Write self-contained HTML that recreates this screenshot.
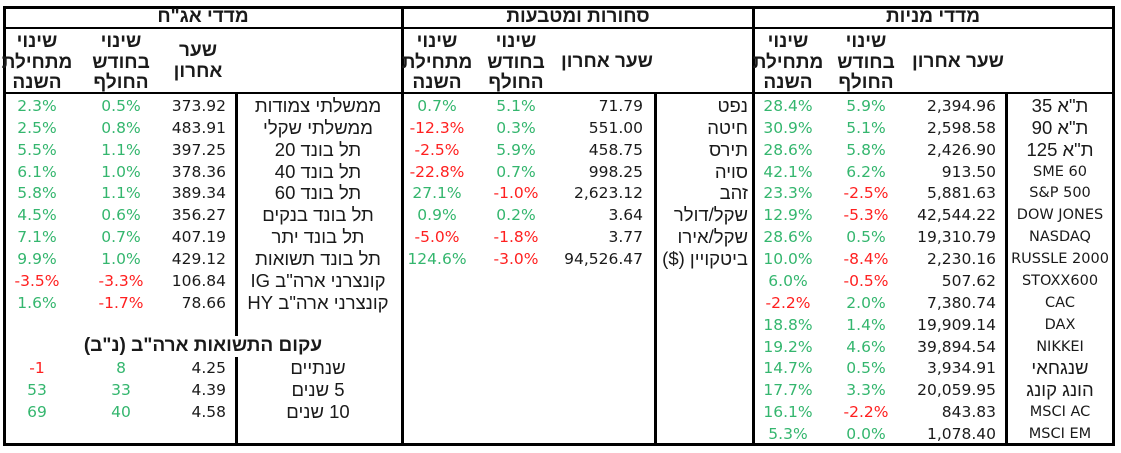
<!DOCTYPE html>
<html lang="he"><head><meta charset="utf-8">
<style>
html,body{margin:0;padding:0;background:#fff;}
#root{position:relative;width:1121px;height:453px;overflow:hidden;font-family:"DejaVu Sans","Liberation Sans",sans-serif;font-size:15.5px;color:#1a1a1a;}
.ln{position:absolute;background:#000;}
.t{position:absolute;white-space:nowrap;line-height:20px;}
.c{transform:translateX(-50%);text-align:center;}
.r{transform:translateX(-100%);text-align:right;}
.b{font-weight:bold;}
.g{color:#34b66e;}
.n{color:#ff1f1f;}
.h{direction:rtl;font-size:18.5px;font-family:"Liberation Sans","DejaVu Sans",sans-serif;}
.hb{font-size:19px;}
.en{font-size:14.5px;}
</style></head><body>
<div id="root"></div>
<script>
const bondNames=["ממשלתי צמודות","ממשלתי שקלי","תל בונד 20","תל בונד 40","תל בונד 60","תל בונד בנקים","תל בונד יתר","תל בונד תשואות","קונצרני ארה\"ב IG","קונצרני ארה\"ב HY"];
const bondPrice=["373.92","483.91","397.25","378.36","389.34","356.27","407.19","429.12","106.84","78.66"];
const bondMonth=[0.5,0.8,1.1,1.0,1.1,0.6,0.7,1.0,-3.3,-1.7];
const bondYear=[2.3,2.5,5.5,6.1,5.8,4.5,7.1,9.9,-3.5,1.6];
const yieldNames=["שנתיים","5 שנים","10 שנים"];
const yieldPrice=["4.25","4.39","4.58"];
const yieldMonth=[8,33,40];
const yieldYear=[-1,53,69];
const comNames=["נפט","חיטה","תירס","סויה","זהב","שקל/דולר","שקל/אירו","ביטקויין ($)"];
const comPrice=["71.79","551.00","458.75","998.25","2,623.12","3.64","3.77","94,526.47"];
const comMonth=[5.1,0.3,5.9,0.7,-1.0,0.2,-1.8,-3.0];
const comYear=[0.7,-12.3,-2.5,-22.8,27.1,0.9,-5.0,124.6];
const eqNames=["ת\"א 35","ת\"א 90","ת\"א 125","SME 60","S&P 500","DOW JONES","NASDAQ","RUSSLE 2000","STOXX600","CAC","DAX","NIKKEI","שנגחאי","הונג קונג","MSCI AC","MSCI EM"];
const eqPrice=["2,394.96","2,598.58","2,426.90","913.50","5,881.63","42,544.22","19,310.79","2,230.16","507.62","7,380.74","19,909.14","39,894.54","3,934.91","20,059.95","843.83","1,078.40"];
const eqMonth=[5.9,5.1,5.8,6.2,-2.5,-5.3,0.5,-8.4,-0.5,2.0,1.4,4.6,0.5,3.3,-2.2,0.0];
const eqYear=[28.4,30.9,28.6,42.1,23.3,12.9,28.6,10.0,6.0,-2.2,18.8,19.2,14.7,17.7,16.1,5.3];

const root=document.getElementById('root');
const ROW0=96, RH=21.87;
function rowY(i){return ROW0+i*RH;}
function line(x,y,w,h,name){
  const d=document.createElement('div');d.className='ln';
  d.style.left=x+'px';d.style.top=y+'px';d.style.width=w+'px';d.style.height=h+'px';
  
  
  root.appendChild(d);
}
function txt(s,x,y,cls,name){
  const d=document.createElement('div');d.className='t '+cls;
  d.style.left=x+'px';d.style.top=y+'px';d.textContent=s;
  
  
  root.appendChild(d);
}
function pct(v){return v.toFixed(1)+'%';}
function col(v){return v<0?'n':'g';}
function isHeb(s){return /[\u0590-\u05FF]/.test(s);}
line(3,6,1112,3,'outer-border-top');
line(3,443,1112,3,'outer-border-bottom');
line(3,6,3,440,'outer-border-left');
line(1112,6,3,440,'outer-border-right');
line(3,27,1112,2,'title-row-divider');
line(3,92,1112,2,'header-row-divider');
line(401,6,3,440,'section-divider-left');
line(752,6,3,440,'section-divider-right');
line(235,93,3,243,'bond-name-divider-top');
line(235,357,3,88,'bond-name-divider-bottom');
line(654,93,3,352,'commodity-name-divider');
line(1005,93,3,352,'equity-name-divider');
txt('מדדי אג"ח',203,7,'c b h hb','bond-section-title');
txt('סחורות ומטבעות',578,7,'c b h hb','commodity-section-title');
txt('מדדי מניות',933,7,'c b h hb','equity-section-title');
function hdr(x,lines,name,top){lines.forEach((s,k)=>txt(s,x,(top||32)+k*20.5,'c b h hb',name));}
hdr(37,['שינוי','מתחילת','השנה'],'bond-ytd-header');
hdr(121,['שינוי','בחודש','החולף'],'bond-month-header');
hdr(198,['שער','אחרון'],'bond-price-header',41);
hdr(437,['שינוי','מתחילת','השנה'],'commodity-ytd-header');
hdr(516,['שינוי','בחודש','החולף'],'commodity-month-header');
hdr(607,['שער אחרון'],'commodity-price-header',52);
hdr(788,['שינוי','מתחילת','השנה'],'equity-ytd-header');
hdr(866,['שינוי','בחודש','החולף'],'equity-month-header');
hdr(958,['שער אחרון'],'equity-price-header',52);
bondNames.forEach((n,i)=>{
  const y=rowY(i);
  txt(n,318,y,'c h','bond-name');
  txt(bondPrice[i],226,y,'r','bond-price');
  txt(pct(bondMonth[i]),121,y,'c '+col(bondMonth[i]),'bond-month-change');
  txt(pct(bondYear[i]),37,y,'c '+col(bondYear[i]),'bond-ytd-change');
});
txt('עקום התשואות ארה"ב (נ"ב)',203,rowY(11)-1,'c b h hb','yield-curve-title');
yieldNames.forEach((n,i)=>{
  const y=rowY(12+i);
  txt(n,318,y,'c h','yield-name');
  txt(yieldPrice[i],226,y,'r','yield-value');
  txt(String(yieldMonth[i]),121,y,'c '+col(yieldMonth[i]),'yield-month-change');
  txt(String(yieldYear[i]),37,y,'c '+col(yieldYear[i]),'yield-ytd-change');
});
comNames.forEach((n,i)=>{
  const y=rowY(i);
  txt(n,748,y,'r h','commodity-name');
  txt(comPrice[i],643,y,'r','commodity-price');
  txt(pct(comMonth[i]),516,y,'c '+col(comMonth[i]),'commodity-month-change');
  txt(pct(comYear[i]),437,y,'c '+col(comYear[i]),'commodity-ytd-change');
});
eqNames.forEach((n,i)=>{
  const y=rowY(i);
  txt(n,1060,y,isHeb(n)?'c h':'c en','equity-name');
  txt(eqPrice[i],996,y,'r','equity-price');
  txt(pct(eqMonth[i]),866,y,'c '+col(eqMonth[i]),'equity-month-change');
  txt(pct(eqYear[i]),788,y,'c '+col(eqYear[i]),'equity-ytd-change');
});
</script>
</body></html>
